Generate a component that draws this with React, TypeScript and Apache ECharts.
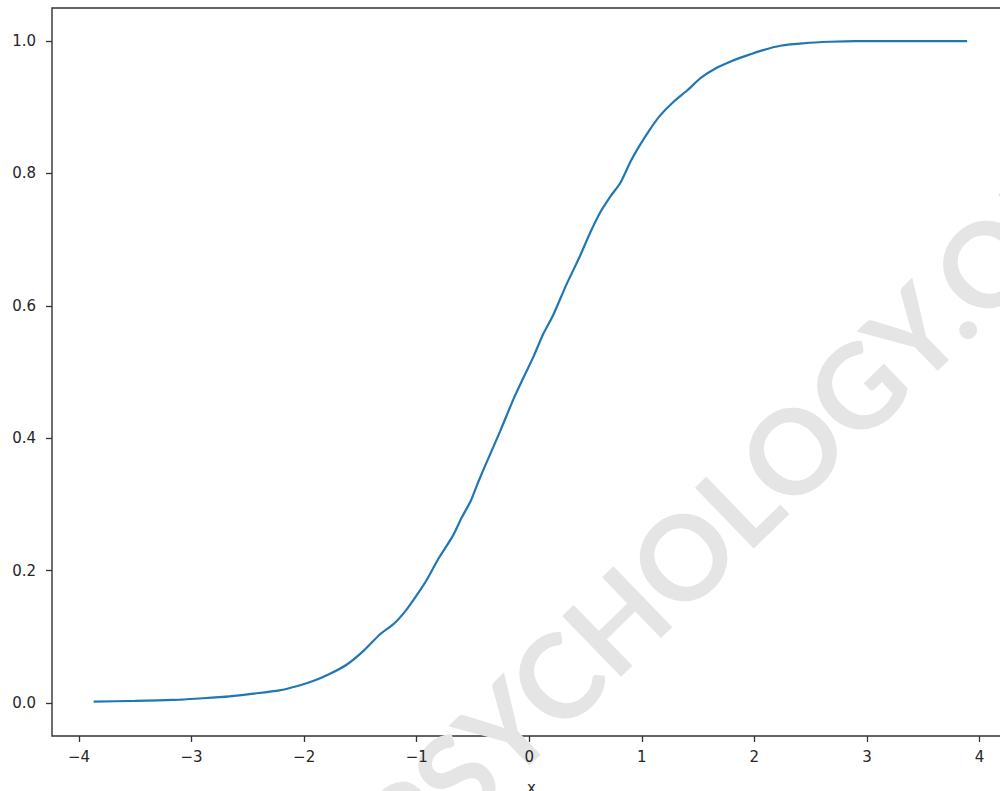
import React, { useEffect, useRef } from "react";
import * as echarts from "echarts";

const xValues = [-3.87, -3.5, -3.1, -2.9, -2.66, -2.45, -2.22, -2.05, -1.92, -1.77, -1.62, -1.47, -1.33, -1.2, -1.09, -0.99, -0.91, -0.81, -0.68, -0.6, -0.52, -0.45, -0.38, -0.26, -0.14, -0.05, 0.04, 0.12, 0.21, 0.33, 0.45, 0.54, 0.63, 0.72, 0.81, 0.9, 0.98, 1.07, 1.16, 1.28, 1.4, 1.53, 1.67, 1.8, 1.93, 2.07, 2.23, 2.45, 2.67, 2.9, 3.12, 3.5, 3.89];
const yValues = [0.002, 0.003, 0.005, 0.007, 0.01, 0.014, 0.019, 0.026, 0.033, 0.044, 0.058, 0.079, 0.103, 0.12, 0.141, 0.165, 0.186, 0.217, 0.252, 0.28, 0.305, 0.335, 0.363, 0.41, 0.459, 0.492, 0.524, 0.556, 0.585, 0.632, 0.675, 0.71, 0.741, 0.765, 0.786, 0.818, 0.842, 0.866, 0.887, 0.908, 0.925, 0.945, 0.96, 0.97, 0.978, 0.986, 0.993, 0.997, 0.999, 1.0, 1.0, 1.0, 1.0];
const xTicks = [-4, -3, -2, -1, 0, 1, 2, 3, 4];
const yTicks = [0, 0.2, 0.4, 0.6, 0.8, 1.0];
const xLabel = "x";
const watermarkLeft = "SIMPLYPSYC";
const watermarkRight = "HOLOGY.ORG";

export default function App() {
  const ref = useRef<HTMLDivElement>(null);
  useEffect(() => {
    if (!ref.current) return;
    const chart = echarts.init(ref.current, null, { renderer: "svg" });
    const textColor = "#262626";
    const spine = "#333333";
    const font = "DejaVu Sans";
    chart.setOption({
      animation: false,
      backgroundColor: "#ffffff",
      grid: {
        left: 52,
        top: 8,
        right: -11,
        height: 728,
        containLabel: false,
        outerBoundsMode: "none",
        show: true,
        borderColor: spine,
        borderWidth: 1.4,
        backgroundColor: "transparent",
      },
      xAxis: {
        type: "value",
        min: -4.24,
        max: 4.28,
        name: xLabel,
        nameLocation: "middle",
        nameGap: 44,
        nameTextStyle: { color: textColor, fontSize: 15, fontFamily: font },
        axisLine: { show: false, onZero: false },
        splitLine: { show: false },
        axisTick: {
          show: true,
          inside: false,
          length: 6,
          customValues: xTicks,
          lineStyle: { color: spine, width: 1.3 },
        },
        axisLabel: {
          customValues: xTicks,
          margin: 13,
          color: textColor,
          fontSize: 15,
          fontFamily: font,
          formatter: (v: number) => String(v).replace("-", "\u2212"),
        },
      },
      yAxis: {
        type: "value",
        min: -0.05,
        max: 1.05,
        axisLine: { show: false, onZero: false },
        splitLine: { show: false },
        axisTick: {
          show: true,
          inside: false,
          length: 6,
          customValues: yTicks,
          lineStyle: { color: spine, width: 1.3 },
        },
        axisLabel: {
          customValues: yTicks,
          margin: 16,
          color: textColor,
          fontSize: 15,
          fontFamily: font,
          formatter: (v: number) => v.toFixed(1),
        },
      },
      graphic: [
        {
          type: "group",
          x: 583,
          y: 651,
          rotation: (44 * Math.PI) / 180,
          z: -10,
          silent: true,
          children: [
            {
              type: "text",
              x: 0,
              y: 0,
              style: {
                text: watermarkLeft,
                fill: "#e5e5e5",
                font: "bold 117px Lato",
                align: "right",
                verticalAlign: "middle",
              },
            },
            {
              type: "text",
              x: 0,
              y: 0,
              style: {
                text: watermarkRight,
                fill: "#e5e5e5",
                font: "bold 117px Lato",
                align: "left",
                verticalAlign: "middle",
              },
            },
          ],
        },
      ],
      series: [
        {
          type: "line",
          data: xValues.map((x, i) => [x, yValues[i]]),
          showSymbol: false,
          smooth: 0.2,
          lineStyle: { color: "#1f77b4", width: 2.2 },
          z: 5,
        },
      ],
    });
    return () => chart.dispose();
  }, []);
  return (
    <div
      ref={ref}
      style={{ position: "fixed", left: 0, top: 0, width: 1000, height: 791, background: "#fff" }}
    />
  );
}
